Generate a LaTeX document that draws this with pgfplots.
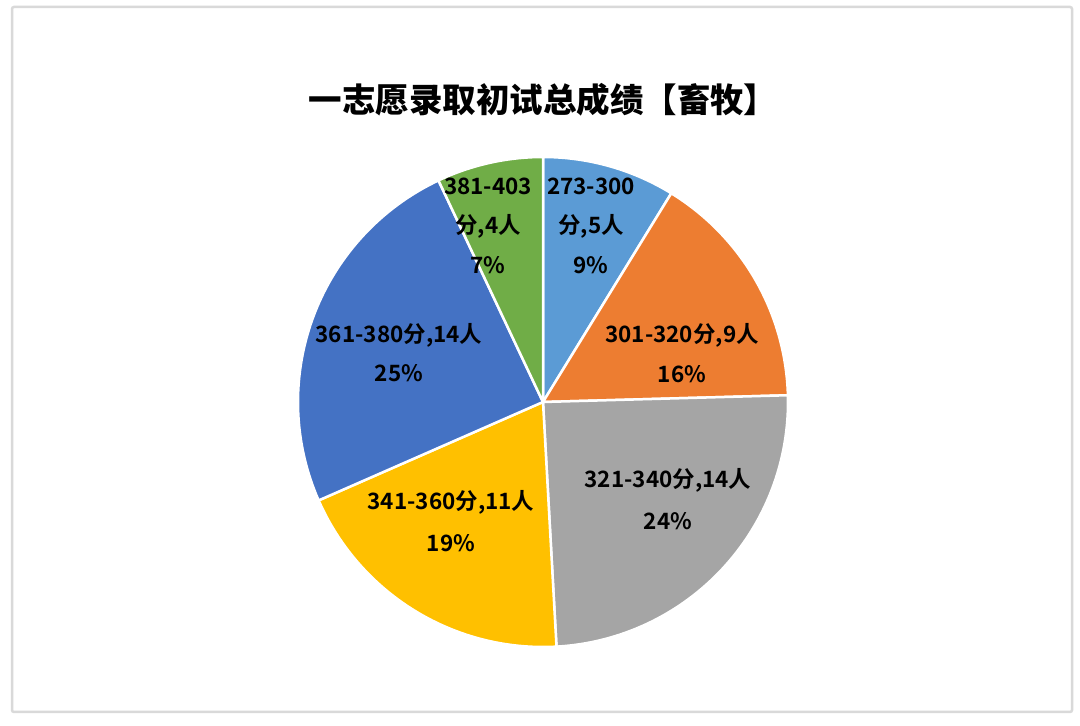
\documentclass[border=0pt]{standalone}
\usepackage{pgfplots}
\pgfplotsset{compat=1.18}
\usepackage{pgfplotstable}
\usepackage{fontspec}
\newfontfamily\cjkb{Noto Sans CJK SC Bold}
\newfontfamily\cjkt{Noto Sans CJK SC Black}
\definecolor{cA}{HTML}{5B9BD5}
\definecolor{cB}{HTML}{ED7D31}
\definecolor{cC}{HTML}{A5A5A5}
\definecolor{cD}{HTML}{FFC000}
\definecolor{cE}{HTML}{4472C4}
\definecolor{cF}{HTML}{70AD47}
\pgfplotstableread{
n
5
9
14
11
14
4
}\piedata
\pgfplotstablegetelem{0}{n}\of\piedata \let\nA\pgfplotsretval
\pgfplotstablegetelem{1}{n}\of\piedata \let\nB\pgfplotsretval
\pgfplotstablegetelem{2}{n}\of\piedata \let\nC\pgfplotsretval
\pgfplotstablegetelem{3}{n}\of\piedata \let\nD\pgfplotsretval
\pgfplotstablegetelem{4}{n}\of\piedata \let\nE\pgfplotsretval
\pgfplotstablegetelem{5}{n}\of\piedata \let\nF\pgfplotsretval
\pgfmathsetmacro\tot{\nA+\nB+\nC+\nD+\nE+\nF}
\pgfmathsetmacro\aA{90}
\pgfmathsetmacro\aB{\aA-360*\nA/\tot}
\pgfmathsetmacro\aC{\aB-360*\nB/\tot}
\pgfmathsetmacro\aD{\aC-360*\nC/\tot}
\pgfmathsetmacro\aE{\aD-360*\nD/\tot}
\pgfmathsetmacro\aF{\aE-360*\nE/\tot}
\pgfmathsetmacro\aG{\aF-360*\nF/\tot}
\begin{document}
\begin{tikzpicture}[x=1pt,y=1pt]
\useasboundingbox (0,0) rectangle (1080,726);
\fill[white] (0,0) rectangle (1080,726);
\draw[color=black!15, line width=2.5pt, rounded corners=2pt] (12,14) rectangle (1072,719);
\begin{axis}[
  at={(543pt,324pt)}, anchor=center,
  width=490pt, height=490pt, scale only axis,
  xmin=-1, xmax=1, ymin=-1, ymax=1,
  hide axis, clip=false,
  every axis plot/.append style={draw=white, line width=2.5pt, line join=round},
]
\addplot[fill=cA, domain=\aB:\aA, samples=80] ({cos(x)},{sin(x)}) -- (axis cs:0,0) -- cycle;
\addplot[fill=cB, domain=\aC:\aB, samples=80] ({cos(x)},{sin(x)}) -- (axis cs:0,0) -- cycle;
\addplot[fill=cC, domain=\aD:\aC, samples=120] ({cos(x)},{sin(x)}) -- (axis cs:0,0) -- cycle;
\addplot[fill=cD, domain=\aE:\aD, samples=100] ({cos(x)},{sin(x)}) -- (axis cs:0,0) -- cycle;
\addplot[fill=cE, domain=\aF:\aE, samples=120] ({cos(x)},{sin(x)}) -- (axis cs:0,0) -- cycle;
\addplot[fill=cF, domain=\aG:\aF, samples=60] ({cos(x)},{sin(x)}) -- (axis cs:0,0) -- cycle;
\end{axis}
\node[font=\cjkt\fontsize{33.5}{40}\selectfont] at (543,626) {一志愿录取初试总成绩【畜牧】};
\begin{scope}[every node/.style={font=\cjkb\fontsize{22.5}{27}\selectfont, text=black, align=center}]
\node at (488,540) {381-403};
\node at (488,500) {分,4人};
\node at (488,461) {7\%};
\node at (591,540) {273-300};
\node at (591,500) {分,5人};
\node at (591,461) {9\%};
\node at (399,391) {361-380分,14人};
\node at (399,353) {25\%};
\node at (682,391) {301-320分,9人};
\node at (682,352) {16\%};
\node at (451,224) {341-360分,11人};
\node at (451,183) {19\%};
\node at (668,246) {321-340分,14人};
\node at (668,205) {24\%};
\end{scope}
\end{tikzpicture}
\end{document}
